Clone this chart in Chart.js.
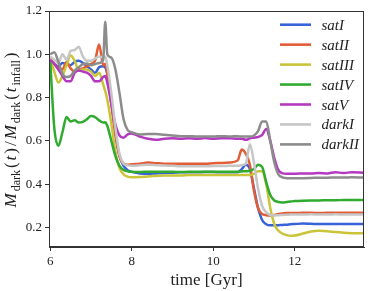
<!DOCTYPE html>
<html>
<head>
<meta charset="utf-8">
<script src="https://cdn.jsdelivr.net/npm/chart.js@4"></script>
<style>
  html, body { margin: 0; padding: 0; background: #fff; }
  canvas { display: block; }
</style>
</head>
<body>
<canvas id="chart" width="374" height="291"></canvas>
<script>
/* ── Data ── */
const times = [6.0, 6.1, 6.2, 6.3, 6.4, 6.5, 6.6, 6.7, 6.8, 6.9, 7.0, 7.1, 7.2, 7.3, 7.35, 7.4, 7.5, 7.6, 7.7, 7.8, 7.9, 8.0,
               8.2, 8.4, 8.6, 8.8, 9.0, 9.2, 9.4, 9.6, 9.8, 10.0, 10.2, 10.4, 10.6,
               10.7, 10.8, 10.9, 11.0, 11.1, 11.2, 11.3, 11.4, 11.5, 11.6, 11.7, 11.8, 11.9, 12.0,
               12.2, 12.4, 12.6, 12.8, 13.0, 13.2, 13.4, 13.7];

const satI   = [0.975, 0.955, 0.945, 0.96, 0.955, 0.95, 0.965, 0.97, 0.96, 0.945, 0.93, 0.915, 0.94, 0.945, 0.94, 0.91, 0.78, 0.63, 0.53, 0.485, 0.465, 0.457,
                0.450, 0.448, 0.450, 0.452, 0.453, 0.455, 0.455, 0.455, 0.456, 0.456, 0.455, 0.455, 0.455,
                0.470, 0.490, 0.470, 0.380, 0.290, 0.235, 0.215, 0.210, 0.210, 0.211, 0.212, 0.213, 0.215, 0.216,
                0.218, 0.217, 0.216, 0.216, 0.216, 0.216, 0.216, 0.216];

const satII  = [0.98, 0.955, 0.935, 0.93, 0.965, 0.935, 0.92, 0.93, 0.935, 0.945, 0.955, 0.97, 1.045, 0.95, 0.955, 0.91, 0.77, 0.63, 0.53, 0.495, 0.49, 0.492,
                0.495, 0.50, 0.497, 0.495, 0.495, 0.495, 0.495, 0.495, 0.495, 0.497, 0.498, 0.50, 0.51,
                0.56, 0.54, 0.49, 0.37, 0.29, 0.262, 0.257, 0.256, 0.258, 0.262, 0.265, 0.267, 0.267, 0.267,
                0.268, 0.268, 0.267, 0.268, 0.268, 0.268, 0.268, 0.268];

const satIII = [0.98, 0.92, 0.87, 0.90, 0.95, 0.995, 0.97, 0.925, 0.93, 0.93, 0.92, 0.90, 0.915, 0.86, 0.83, 0.79, 0.68, 0.55, 0.475, 0.445, 0.435, 0.432,
                0.433, 0.436, 0.438, 0.44, 0.44, 0.44, 0.442, 0.442, 0.443, 0.443, 0.443, 0.443, 0.443,
                0.443, 0.443, 0.443, 0.448, 0.46, 0.46, 0.40, 0.29, 0.215, 0.185, 0.172, 0.165, 0.162, 0.163,
                0.172, 0.182, 0.185, 0.183, 0.179, 0.176, 0.174, 0.173];

const satIV  = [0.97, 0.66, 0.578, 0.64, 0.71, 0.69, 0.695, 0.685, 0.688, 0.70, 0.715, 0.71, 0.695, 0.685, 0.686, 0.67, 0.60, 0.53, 0.485, 0.466, 0.46, 0.457,
                0.456, 0.458, 0.458, 0.457, 0.457, 0.456, 0.457, 0.457, 0.457, 0.457, 0.458, 0.458, 0.458,
                0.459, 0.46, 0.462, 0.47, 0.49, 0.48, 0.41, 0.35, 0.325, 0.318, 0.316, 0.318, 0.32, 0.322,
                0.324, 0.325, 0.325, 0.326, 0.326, 0.327, 0.327, 0.327];

const satV   = [0.975, 0.955, 0.93, 0.90, 0.875, 0.875, 0.915, 0.925, 0.92, 0.915, 0.90, 0.875, 0.875, 0.895, 0.90, 0.87, 0.77, 0.675, 0.625, 0.615, 0.63, 0.634,
                0.62, 0.61, 0.605, 0.61, 0.612, 0.61, 0.612, 0.61, 0.613, 0.61, 0.612, 0.612, 0.61,
                0.61, 0.605, 0.612, 0.615, 0.618, 0.628, 0.655, 0.60, 0.52, 0.465, 0.45, 0.448, 0.448, 0.448,
                0.45, 0.45, 0.452, 0.45, 0.455, 0.452, 0.455, 0.453];

const darkI  = [0.99, 0.975, 0.96, 1.0, 0.975, 1.015, 1.02, 1.035, 0.99, 0.97, 0.97, 0.98, 0.99, 0.985, 0.99, 0.95, 0.82, 0.66, 0.54, 0.495, 0.487, 0.485,
                0.487, 0.49, 0.488, 0.486, 0.485, 0.483, 0.483, 0.483, 0.483, 0.484, 0.484, 0.485, 0.485,
                0.488, 0.495, 0.585, 0.50, 0.38, 0.30, 0.27, 0.258, 0.256, 0.257, 0.258, 0.259, 0.26, 0.26,
                0.26, 0.261, 0.26, 0.26, 0.261, 0.26, 0.26, 0.26];

const darkII = [1.0, 1.01, 0.965, 0.91, 0.895, 0.90, 0.925, 0.94, 0.955, 0.958, 0.95, 0.955, 0.96, 0.975, 1.15, 1.0, 0.985, 0.93, 0.82, 0.70, 0.65, 0.64,
                0.63, 0.632, 0.632, 0.628, 0.625, 0.622, 0.622, 0.62, 0.62, 0.62, 0.622, 0.62, 0.622,
                0.62, 0.62, 0.62, 0.625, 0.645, 0.69, 0.69, 0.60, 0.50, 0.445, 0.432, 0.428, 0.427, 0.427,
                0.428, 0.429, 0.43, 0.43, 0.431, 0.431, 0.432, 0.431];

const seriesNames  = ["satI", "satII", "satIII", "satIV", "satV", "darkI", "darkII"];
const seriesValues = [satI, satII, satIII, satIV, satV, darkI, darkII];
const seriesColors = ["#3862d8", "#e25c35", "#c9c43a", "#30ab30", "#b439c0", "#c6c6c6", "#8c8c8c"];

const xTicks = [6, 8, 10, 12];
const yTicks = [0.2, 0.4, 0.6, 0.8, 1.0, 1.2];

/* ── Plugins ── */
const SERIF = '"Liberation Serif", "DejaVu Serif", serif';

const frame = {
  id: "frame",
  afterDraw(chart) {
    const { ctx, chartArea: a } = chart;
    ctx.save();
    ctx.strokeStyle = "#333";
    ctx.lineWidth = 1;
    ctx.strokeRect(a.left + 0.5, a.top + 0.5, a.right - a.left - 1, a.bottom - a.top - 1);
    ctx.restore();
  }
};

const legendBox = {
  id: "legendBox",
  afterDraw(chart) {
    const ctx = chart.ctx;
    ctx.save();
    ctx.font = "italic 15px " + SERIF;
    ctx.textBaseline = "alphabetic";
    seriesNames.forEach((name, i) => {
      const y = 24.7 + i * 19.95;
      ctx.strokeStyle = seriesColors[i];
      ctx.lineWidth = 2.6;
      ctx.beginPath();
      ctx.moveTo(280, y);
      ctx.lineTo(311, y);
      ctx.stroke();
      ctx.fillStyle = "#222";
      ctx.fillText(name, 321.5, y + 5);
    });
    ctx.restore();
  }
};

// y title with subscripts, drawn as canvas text
const yTitle = {
  id: "yTitle",
  afterDraw(chart) {
    const ctx = chart.ctx;
    const fonts = {
      i: "italic 17px " + SERIF,
      r: "17px " + SERIF,
      s: "12px " + SERIF,
    };
    const parts = [["M", "i"], ["dark", "s"], ["(", "r"], ["t", "i"], [")", "r"], ["/", "r"],
                   ["M", "i"], ["dark", "s"], ["(", "r"], ["t", "i"], ["infall", "s"], [")", "r"]];
    ctx.save();
    let total = 0;
    const widths = parts.map(([txt, f]) => { ctx.font = fonts[f]; const w = ctx.measureText(txt).width; total += w; return w; });
    const gap = Math.max(0, (155 - total) / (parts.length - 1));
    ctx.translate(16.3, 130);
    ctx.rotate(-Math.PI / 2);
    ctx.fillStyle = "#222";
    ctx.textBaseline = "alphabetic";
    let x = -(total + gap * (parts.length - 1)) / 2;
    parts.forEach(([txt, f], i) => {
      ctx.font = fonts[f];
      ctx.fillText(txt, x, f === "s" ? 3.5 : 0);
      x += widths[i] + gap;
    });
    ctx.restore();
  }
};

/* ── Chart ── */
const datasets = seriesNames.map((name, i) => ({
  label: name,
  data: times.map((t, k) => ({ x: t, y: seriesValues[i][k] })),
  borderColor: seriesColors[i],
  borderWidth: 2.5,
  pointRadius: 0,
  cubicInterpolationMode: "monotone",
  fill: false,
  order: seriesNames.length - i,
}));

const tickFont = { family: SERIF, size: 13 };

new Chart(document.getElementById("chart"), {
  type: "line",
  data: { datasets },
  options: {
    responsive: false,
    animation: false,
    devicePixelRatio: 1,
    layout: { padding: { top: 11, right: 10, left: 0, bottom: 0 } },
    plugins: { legend: { display: false }, tooltip: { enabled: false } },
    scales: {
      x: {
        type: "linear",
        min: 5.97,
        max: 13.7,
        afterBuildTicks: s => { s.ticks = xTicks.map(v => ({ value: v })); },
        afterFit: s => { s.height = 44; },
        grid: { drawOnChartArea: false, tickLength: 4, color: "#333" },
        border: { color: "#333", width: 1 },
        ticks: { font: tickFont, color: "#222", padding: 3, maxRotation: 0, callback: v => String(v) },
        title: { display: true, text: "time [Gyr]", font: { family: SERIF, size: 17 }, color: "#222", padding: { top: 0, bottom: 0 } },
      },
      y: {
        min: 0.11,
        max: 1.2,
        afterBuildTicks: s => { s.ticks = yTicks.map(v => ({ value: v })); },
        afterFit: s => { s.width = 49; },
        grid: { drawOnChartArea: false, tickLength: 4, color: "#333" },
        border: { color: "#333", width: 1 },
        ticks: { font: tickFont, color: "#222", padding: 3, callback: v => v.toFixed(1) },
      },
    },
  },
  plugins: [frame, legendBox, yTitle],
});
</script>
</body>
</html>
